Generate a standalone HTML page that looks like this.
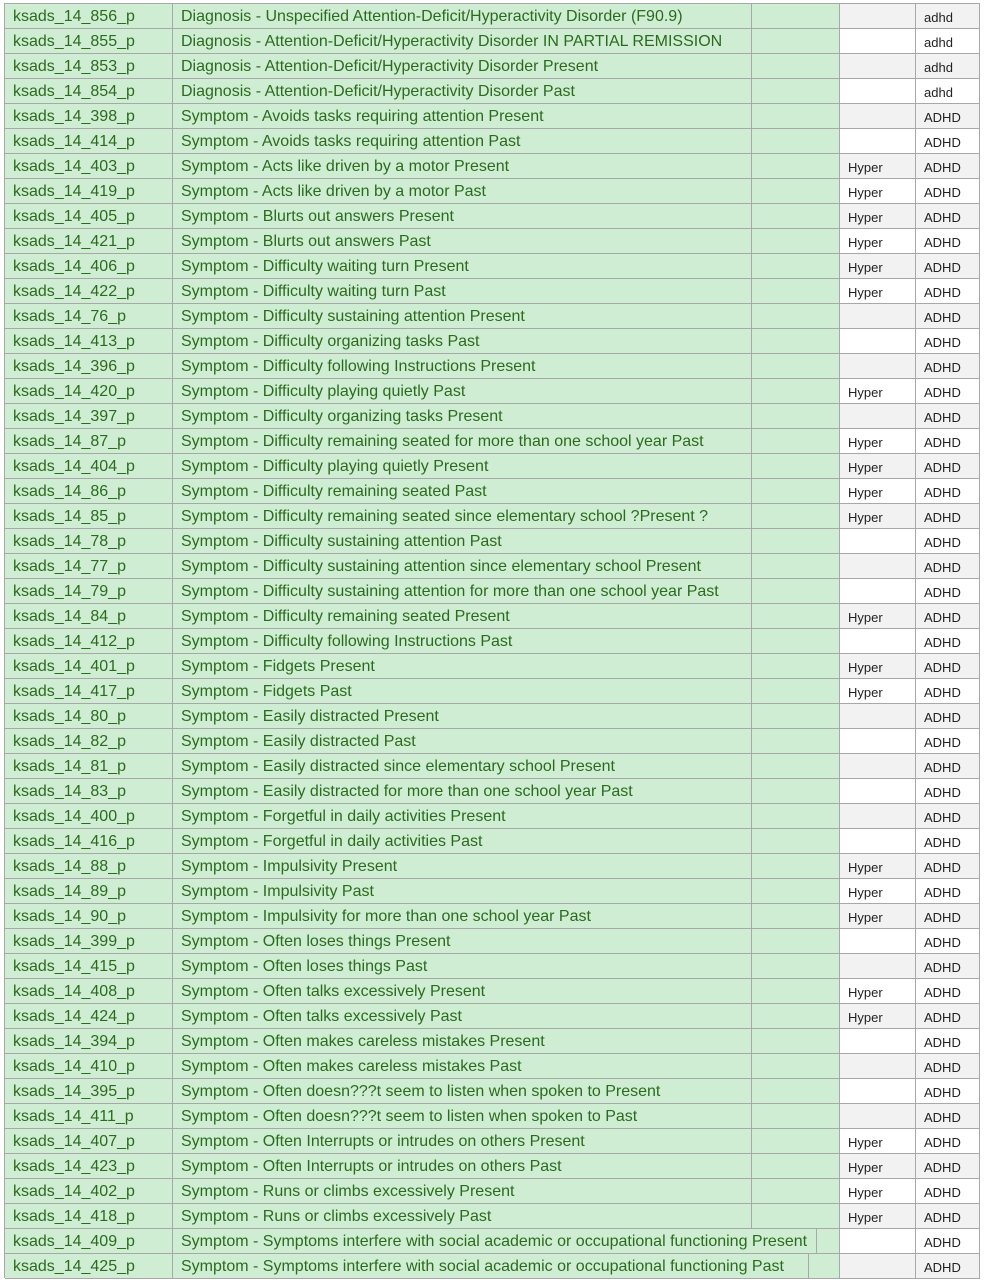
<!DOCTYPE html>
<html><head><meta charset="utf-8"><style>
body{margin:0;width:984px;height:1282px;background:#fff;font-family:"Liberation Sans",sans-serif;overflow:hidden;position:relative}
.c{position:absolute;height:25px;box-sizing:border-box;border-right:1px solid #a8a8a8;border-bottom:1px solid #a8a8a8;white-space:nowrap;overflow:hidden}
.g{background:#cfedd2;color:#2b6b1e;font-size:16px;line-height:25px;padding-left:8px}
.s{font-size:13px;line-height:27px;color:#222;padding-left:8px}
</style></head><body>
<div style="position:absolute;left:4px;top:3px;width:976px;height:1px;background:#a8a8a8"></div>
<div style="position:absolute;left:4px;top:3px;width:1px;height:1275px;background:#a8a8a8"></div>
<script>
const ids=["856","855","853","854","398","414","403","419","405","421","406","422","76","413","396","420","397","87","404","86","85","78","77","79","84","412","401","417","80","82","81","83","400","416","88","89","90","399","415","408","424","394","410","395","411","407","423","402","418","409","425"];
const labels=["Diagnosis - Unspecified Attention-Deficit/Hyperactivity Disorder (F90.9)","Diagnosis - Attention-Deficit/Hyperactivity Disorder IN PARTIAL REMISSION","Diagnosis - Attention-Deficit/Hyperactivity Disorder Present","Diagnosis - Attention-Deficit/Hyperactivity Disorder Past","Symptom - Avoids tasks requiring attention Present","Symptom - Avoids tasks requiring attention Past","Symptom - Acts like driven by a motor Present","Symptom - Acts like driven by a motor Past","Symptom - Blurts out answers Present","Symptom - Blurts out answers Past","Symptom - Difficulty waiting turn Present","Symptom - Difficulty waiting turn Past","Symptom - Difficulty sustaining attention Present","Symptom - Difficulty organizing tasks Past","Symptom - Difficulty following Instructions Present","Symptom - Difficulty playing quietly Past","Symptom - Difficulty organizing tasks Present","Symptom - Difficulty remaining seated for more than one school year Past","Symptom - Difficulty playing quietly Present","Symptom - Difficulty remaining seated Past","Symptom - Difficulty remaining seated since elementary school ?Present ?","Symptom - Difficulty sustaining attention Past","Symptom - Difficulty sustaining attention since elementary school Present","Symptom - Difficulty sustaining attention for more than one school year Past","Symptom - Difficulty remaining seated Present","Symptom - Difficulty following Instructions Past","Symptom - Fidgets Present","Symptom - Fidgets Past","Symptom - Easily distracted Present","Symptom - Easily distracted Past","Symptom - Easily distracted since elementary school Present","Symptom - Easily distracted for more than one school year Past","Symptom - Forgetful in daily activities Present","Symptom - Forgetful in daily activities Past","Symptom - Impulsivity Present","Symptom - Impulsivity Past","Symptom - Impulsivity for more than one school year Past","Symptom - Often loses things Present","Symptom - Often loses things Past","Symptom - Often talks excessively Present","Symptom - Often talks excessively Past","Symptom - Often makes careless mistakes Present","Symptom - Often makes careless mistakes Past","Symptom - Often doesn???t seem to listen when spoken to Present","Symptom - Often doesn???t seem to listen when spoken to Past","Symptom - Often Interrupts or intrudes on others Present","Symptom - Often Interrupts or intrudes on others Past","Symptom - Runs or climbs excessively Present","Symptom - Runs or climbs excessively Past","Symptom - Symptoms interfere with social academic or occupational functioning Present","Symptom - Symptoms interfere with social academic or occupational functioning Past"];
const hyper=[0,0,0,0,0,0,1,1,1,1,1,1,0,0,0,1,0,1,1,1,1,0,0,0,1,0,1,1,0,0,0,0,0,0,1,1,1,0,0,1,1,0,0,0,0,1,1,1,1,0,0];
function cell(cls,x,y,w,txt,bg,name){const d=document.createElement('div');d.className='c '+cls;d.style.left=x+'px';d.style.top=y+'px';d.style.width=w+'px';if(bg)d.style.background=bg;d.textContent=txt;


document.body.appendChild(d);}
ids.forEach((id,i)=>{const y=4+25*i;const bg=i%2===0?'#f2f2f2':'#ffffff';
let b=752;if(i===49)b=817;if(i===50)b=809;
cell('g',5,y,168,'ksads_14_'+id+'_p',null,'variable-name');
cell('g',173,y,b-173,labels[i],null,'variable-label');
cell('g',b,y,840-b,'',null,'green-empty-cell');
cell('s',840,y,76,hyper[i]?'Hyper':'',bg,'subtype-cell');
cell('s',916,y,64,i<4?'adhd':'ADHD',bg,'category-cell');});
</script></body></html>
